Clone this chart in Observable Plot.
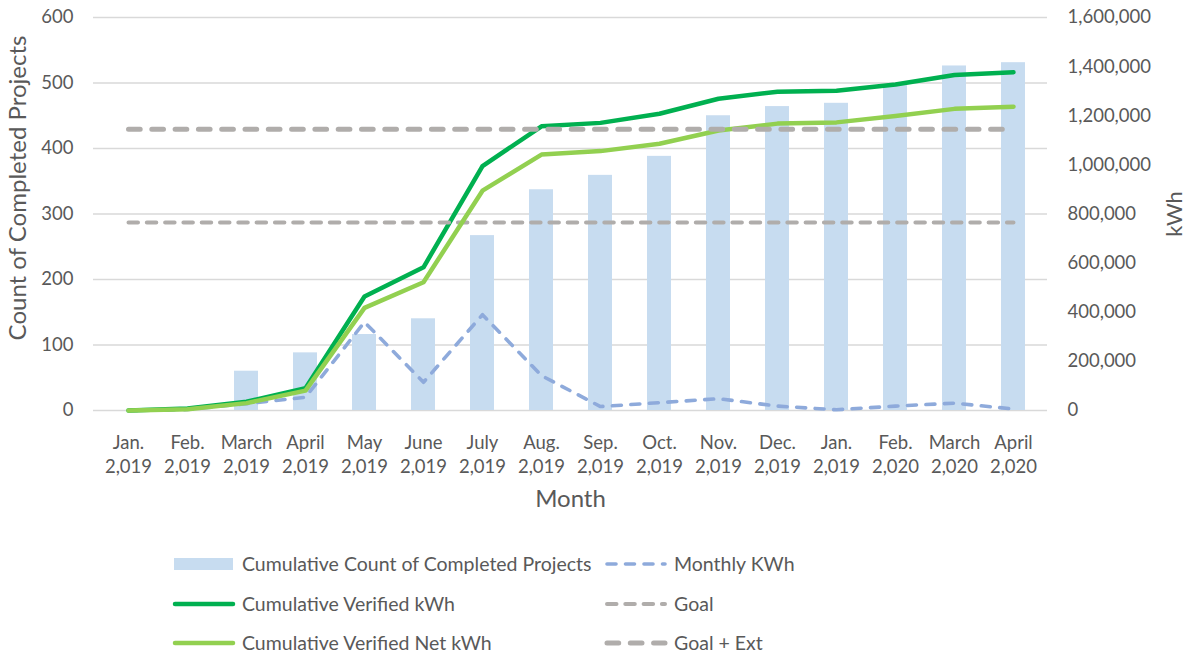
<!DOCTYPE html>
<html><head><meta charset="utf-8">
<script src="https://cdn.jsdelivr.net/npm/d3@7"></script>
<script src="https://cdn.jsdelivr.net/npm/@observablehq/plot@0.6"></script>
<style>
body{margin:0;background:#fff;font-family:Lato,"Open Sans",sans-serif;}
#wrap{position:relative;width:1188px;height:658px;overflow:hidden;background:#fff}
.leg{position:absolute;font-size:19.5px;color:#595959;white-space:nowrap;line-height:20px;height:20px}
.leg svg{position:absolute;top:0}
</style></head><body><div id="wrap"><div id="chart"></div><div id="legend"></div></div>
<script>
// ---- data ----
const months = ["Jan.","Feb.","March","April","May","June","July","Aug.","Sep.","Oct.","Nov.","Dec.","Jan.","Feb.","March","April"];
const years  = ["2,019","2,019","2,019","2,019","2,019","2,019","2,019","2,019","2,019","2,019","2,019","2,019","2,019","2,020","2,020","2,020"];
const projects    = [0, 0, 60, 88, 116, 140, 267, 337, 359, 388, 450, 464, 469, 496, 526, 531];
const verifiedKWh = [0, 8000, 36000, 91000, 464000, 583000, 995000, 1157000, 1171000, 1208000, 1269000, 1298000, 1302000, 1327000, 1366000, 1377000];
const netKWh      = [0, 5000, 30000, 81000, 418000, 522000, 895000, 1042000, 1056000, 1086000, 1140000, 1168000, 1173000, 1199000, 1228000, 1237000];
const monthlyKWh  = [0, 4000, 28000, 54000, 360000, 115000, 390000, 142000, 16000, 32000, 48000, 18000, 3000, 18000, 30000, 6000];
const goalKWh = 765000;
const goalExtKWh = 1145000;
const leftTicks  = [0, 100, 200, 300, 400, 500, 600];
const rightTicks = [0, 200000, 400000, 600000, 800000, 1000000, 1200000, 1400000, 1600000];
const leftMax = 600, rightMax = 1600000;

// ---- chart ----
const K = rightMax / leftMax;
const idx = d3.range(months.length);
const rows = idx.map(i => ({
  i,
  projects: projects[i] * K,
  verified: verifiedKWh[i],
  net: netKWh[i],
  monthly: monthlyKWh[i],
  goal: goalKWh,
  goalExt: goalExtKWh
}));

const colors = {
  bar: "#c7dcf0", monthly: "#8eaadb", verified: "#00b050", net: "#92d050", goal: "#b0adab", grid: "#d9d9d9", text: "#595959"
};

const chart = Plot.plot({
  width: 1188,
  height: 525,
  marginLeft: 93,
  marginRight: 141,
  marginTop: 17,
  marginBottom: 115,
  style: {fontFamily: "Lato, 'Open Sans', sans-serif", fontSize: "18.5px", color: colors.text, background: "white", overflow: "visible"},
  x: {type: "band", domain: idx, paddingInner: 0.6, paddingOuter: 0.3},
  y: {domain: [0, rightMax]},
  marks: [
    Plot.ruleY(leftTicks.map(v => v * K), {stroke: colors.grid, strokeWidth: 1.4}),
    Plot.barY(rows, {x: "i", y: "projects", fill: colors.bar}),
    Plot.line(rows, {x: "i", y: "monthly", stroke: colors.monthly, strokeWidth: 3.6, strokeDasharray: "9,9.5", strokeLinecap: "round", strokeLinejoin: "round"}),
    Plot.line(rows, {x: "i", y: "verified", stroke: colors.verified, strokeWidth: 4.5, strokeLinecap: "round", strokeLinejoin: "round"}),
    Plot.line(rows, {x: "i", y: "goal", stroke: colors.goal, strokeWidth: 4, strokeDasharray: "9.5,8.8", strokeLinecap: "round"}),
    Plot.line(rows, {x: "i", y: "net", stroke: colors.net, strokeWidth: 4.5, strokeLinecap: "round", strokeLinejoin: "round"}),
    Plot.line(rows, {x: "i", y: "goalExt", stroke: colors.goal, strokeWidth: 5, strokeDasharray: "11.7,11.6", strokeLinecap: "round"}),
    Plot.axisY(leftTicks.map(v => v * K), {anchor: "left", tickSize: 0, tickPadding: 20, tickFormat: d => String(Math.round(d / K)), label: null}),
    Plot.axisY(rightTicks, {anchor: "right", tickSize: 0, tickPadding: 20, tickFormat: d3.format(","), label: null, textAnchor: "start"}),
    Plot.axisX({tickSize: 0, tickPadding: 21, tickFormat: i => months[i] + "\n" + years[i], lineHeight: 1.3, label: null}),
    Plot.text(["Count of Completed Projects"], {frameAnchor: "left", textAnchor: "middle", rotate: -90, dx: -75, dy: -26, fontSize: 24, fill: colors.text}),
    Plot.text(["kWh"], {frameAnchor: "right", textAnchor: "middle", rotate: -90, dx: 127, fontSize: 22, fill: colors.text}),
    Plot.text(["Month"], {frameAnchor: "bottom", dy: 96, fontSize: 24, fill: colors.text})
  ]
});
document.getElementById("chart").appendChild(chart);

// ---- legend ----
const legendItems = [
  {label: "Cumulative Count of Completed Projects", kind: "rect", color: colors.bar},
  {label: "Monthly KWh", kind: "line", color: colors.monthly, w: 3.6, dash: "9,9.5"},
  {label: "Cumulative Verified kWh", kind: "line", color: colors.verified, w: 4.5},
  {label: "Goal", kind: "line", color: colors.goal, w: 4, dash: "9.5,8.8"},
  {label: "Cumulative Verified Net kWh", kind: "line", color: colors.net, w: 4.5},
  {label: "Goal + Ext", kind: "line", color: colors.goal, w: 5, dash: "11.7,11.6"}
];
const legend = document.getElementById("legend");
const colX = [172, 604], rowY = [554, 594, 633];
legendItems.forEach((it, k) => {
  const c = k % 2, r = Math.floor(k / 2);
  const div = document.createElement("div");
  div.className = "leg";
  div.style.left = colX[c] + "px";
  div.style.top = rowY[r] + "px";
  const sw = 64;
  let svg;
  if (it.kind === "rect") {
    svg = `<svg width="${sw}" height="20"><rect x="2" y="4" width="59" height="12" fill="${it.color}"/></svg>`;
  } else {
    svg = `<svg width="${sw}" height="20"><line x1="3" y1="10" x2="${sw - 3}" y2="10" stroke="${it.color}" stroke-width="${it.w}" stroke-linecap="round" ${it.dash ? `stroke-dasharray="${it.dash}"` : ""}/></svg>`;
  }
  div.innerHTML = svg + `<span style="position:absolute;left:${70}px;top:0">${it.label}</span>`;
  legend.appendChild(div);
});
</script>
</body></html>
